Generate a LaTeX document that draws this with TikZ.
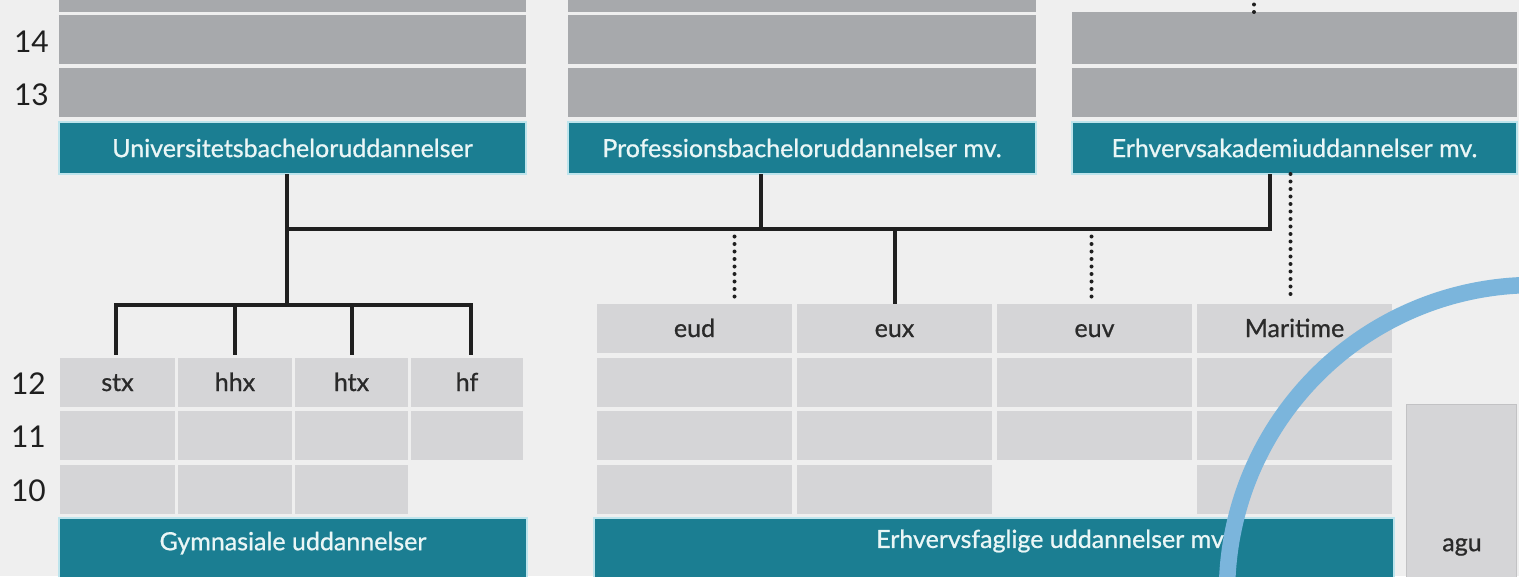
\documentclass[tikz,border=0pt]{standalone}
\usepackage{fontspec}
\setmainfont{Lato}
\newfontfamily\labfont{Lato}[FakeBold=0.8]
\definecolor{bgc}{HTML}{EFEFEF}
\definecolor{darkcell}{HTML}{A7A9AC}
\definecolor{lightcell}{HTML}{D5D5D7}
\definecolor{tealc}{HTML}{1B7E92}
\definecolor{tealedge}{HTML}{BDE4EC}
\definecolor{tealtext}{HTML}{EAF6F6}
\definecolor{celltext}{HTML}{2A2A2A}
\definecolor{arcblue}{HTML}{7BB5DC}
\definecolor{aguedge}{HTML}{C2C2C4}
\tikzset{
  box/.style={inner sep=0pt, outer sep=0pt, anchor=north west},
  upper/.style={box, fill=darkcell},
  lower/.style={box, fill=lightcell, text=celltext, text height=17pt, text depth=0pt, font=\labfont\fontsize{25}{29}\selectfont},
  tealbox/.style={box, fill=tealc, draw=tealedge, line width=1.2pt, text=tealtext, font=\labfont\fontsize{25}{29}\selectfont},
  rownum/.style={anchor=east, text=black!88, font=\fontsize{30}{34}\selectfont, inner sep=0pt},
  conn/.style={draw=black!88, line width=4pt, line join=miter},
  dotline/.style={draw=black!88, line width=4pt, line cap=round, dash pattern=on 0pt off 7.5pt},
}
\begin{document}
\begin{tikzpicture}[x=1pt,y=-1pt]
\useasboundingbox (0,0) rectangle (1519,576);
\begin{scope}
\clip (0,0) rectangle (1519,576);
\fill[bgc] (0,0) rectangle (1519,576);

% ---- top: university bachelor
\node[upper, minimum width=467pt, minimum height=42pt] (u15) at (59,-30) {};
\node[upper, minimum width=467pt, minimum height=49pt] (u14) at (59,15) {};
\node[upper, minimum width=467pt, minimum height=49pt] (u13) at (59,68) {};
\node[tealbox, minimum width=467pt, minimum height=52pt] (uni) at (59,122) {Universitetsbacheloruddannelser};

% ---- top: professionsbachelor
\node[upper, minimum width=468pt, minimum height=42pt] (p15) at (568,-30) {};
\node[upper, minimum width=468pt, minimum height=49pt] (p14) at (568,15) {};
\node[upper, minimum width=468pt, minimum height=49pt] (p13) at (568,68) {};
\node[tealbox, minimum width=468pt, minimum height=52pt] (prof) at (568,122) {Professionsbacheloruddannelser mv.};

% ---- top: erhvervsakademi
\node[upper, minimum width=445pt, minimum height=52pt] (e14) at (1072,12) {};
\node[upper, minimum width=445pt, minimum height=49pt] (e13) at (1072,68) {};
\node[tealbox, minimum width=445pt, minimum height=52pt] (eak) at (1072,122) {Erhvervsakademiuddannelser mv.};

% ---- row numbers
\node[rownum] (n15) at (49,-12) {15};
\node[rownum] (n14) at (49,42) {14};
\node[rownum] (n13) at (49,95) {13};
\node[rownum] (n12) at (46,384) {12};
\node[rownum] (n11) at (46,437) {11};
\node[rownum] (n10) at (46,491) {10};

% ---- gymnasiale
\node[lower, minimum width=115pt, minimum height=49pt] (stx) at (60,358) {stx};
\node[lower, minimum width=114pt, minimum height=49pt] (hhx) at (178,358) {hhx};
\node[lower, minimum width=113pt, minimum height=49pt] (htx) at (295,358) {htx};
\node[lower, minimum width=112pt, minimum height=49pt] (hf) at (411,358) {hf};
\node[lower, minimum width=115pt, minimum height=49pt] (g11a) at (60,411) {};
\node[lower, minimum width=114pt, minimum height=49pt] (g11b) at (178,411) {};
\node[lower, minimum width=113pt, minimum height=49pt] (g11c) at (295,411) {};
\node[lower, minimum width=112pt, minimum height=49pt] (g11d) at (411,411) {};
\node[lower, minimum width=115pt, minimum height=49pt] (g10a) at (60,465) {};
\node[lower, minimum width=114pt, minimum height=49pt] (g10b) at (178,465) {};
\node[lower, minimum width=113pt, minimum height=49pt] (g10c) at (295,465) {};
\node[tealbox, minimum width=468pt, minimum height=60pt] (gym) at (59,518) {\raisebox{14pt}{Gymnasiale uddannelser}};

% ---- erhvervsfaglige
\node[lower, minimum width=195pt, minimum height=49pt] (eud) at (597,304) {eud};
\node[lower, minimum width=195pt, minimum height=49pt] (eux) at (797,304) {eux};
\node[lower, minimum width=195pt, minimum height=49pt] (euv) at (997,304) {euv};
\node[lower, minimum width=195pt, minimum height=49pt] (mar) at (1197,304) {Maritime};
\node[lower, minimum width=195pt, minimum height=49pt] (f12a) at (597,358) {};
\node[lower, minimum width=195pt, minimum height=49pt] (f12b) at (797,358) {};
\node[lower, minimum width=195pt, minimum height=49pt] (f12c) at (997,358) {};
\node[lower, minimum width=195pt, minimum height=49pt] (f12d) at (1197,358) {};
\node[lower, minimum width=195pt, minimum height=49pt] (f11a) at (597,411) {};
\node[lower, minimum width=195pt, minimum height=49pt] (f11b) at (797,411) {};
\node[lower, minimum width=195pt, minimum height=49pt] (f11c) at (997,411) {};
\node[lower, minimum width=195pt, minimum height=49pt] (f11d) at (1197,411) {};
\node[lower, minimum width=195pt, minimum height=49pt] (f10a) at (597,465) {};
\node[lower, minimum width=195pt, minimum height=49pt] (f10b) at (797,465) {};
\node[lower, minimum width=195pt, minimum height=49pt] (f10d) at (1197,465) {};
\node[tealbox, minimum width=800pt, minimum height=60pt] (erhv) at (594,518) {};
\node[anchor=west, inner sep=0pt, text=tealtext, font=\labfont\fontsize{25}{29}\selectfont] (erhvtxt) at (876,541) {Erhvervsfaglige uddannelser mv.};

% ---- agu
\node[box, fill=lightcell, draw=aguedge, line width=1pt, minimum width=110pt, minimum height=190pt] (agubox) at (1406,404) {};
\node[text=celltext, font=\labfont\fontsize{25}{29}\selectfont, inner sep=0pt] (agu) at (1462,547) {agu};

% ---- connectors
\coordinate (bus) at (0,229);
\coordinate (busL) at (287,229);
\coordinate (busP) at (761,229);
\coordinate (busR) at (1270,229);
\coordinate (gymbar) at (287,305);
\coordinate (topdot) at (1254,-4);

\draw[conn] (uni.south -| busL) -- (gymbar);
\draw[conn] (prof.south -| busP) -- (busP);
\draw[conn] (eak.south -| busR) -- (busR) -- (busL);
\draw[conn] (eux.north |- bus) -- (eux.north);
\draw[conn] ([xshift=-2pt]stx.north |- gymbar) -- ([xshift=-2pt,yshift=3pt]stx.north);
\draw[conn] (hhx.north |- gymbar) -- ([yshift=3pt]hhx.north);
\draw[conn] (htx.north |- gymbar) -- ([yshift=3pt]htx.north);
\draw[conn] ([xshift=4pt]hf.north |- gymbar) -- ([xshift=4pt,yshift=3pt]hf.north);
\draw[conn, line cap=rect] ([xshift=-2pt]stx.north |- gymbar) -- ([xshift=4pt]hf.north |- gymbar);

\draw[dotline] ([xshift=40pt]eud.north |- bus) -- ([xshift=40pt,yshift=4pt]eud.north);
\draw[dotline] ([xshift=-3pt]euv.north |- bus) -- ([xshift=-3pt,yshift=4pt]euv.north);
\draw[dotline] ([xshift=-4pt]mar.north |- eak.south) -- ([xshift=-4pt,yshift=4pt]mar.north);
\draw[dotline] (e14.north -| topdot) -- (topdot);

% ---- blue arc
\draw[arcblue, line width=16.5pt] (1534,592) ++(-84:307) arc[start angle=-84, end angle=-184, radius=307];
\end{scope}
\end{tikzpicture}
\end{document}
